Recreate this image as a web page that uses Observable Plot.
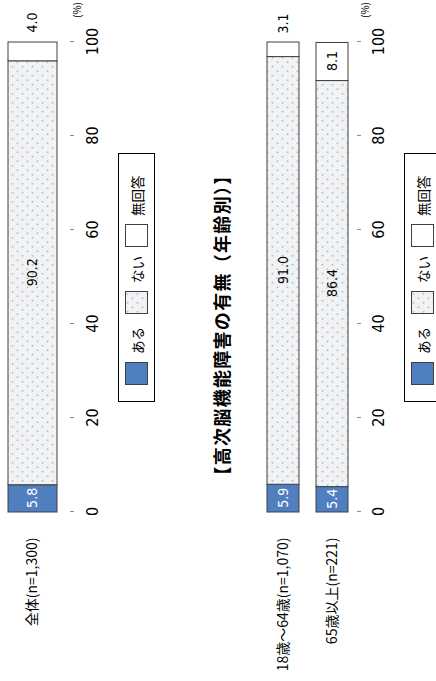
<!DOCTYPE html>
<html lang="ja">
<head>
<meta charset="utf-8">
<script src="https://cdn.jsdelivr.net/npm/d3@7"></script>
<script src="https://cdn.jsdelivr.net/npm/@observablehq/plot@0.6"></script>
<style>
html, body { margin: 0; padding: 0; background: #fff; width: 436px; height: 681px; overflow: hidden; }
#page { position: absolute; left: 0; top: 0; width: 681px; height: 436px; transform-origin: 0 0;
  transform: translate(0px, 681px) rotate(-90deg); overflow: hidden; background: #fff;
  font-family: "Noto Sans CJK JP", sans-serif; color: #000; }
#page .plot { position: absolute; left: 0; top: 0; }
.title { position: absolute; left: 156px; width: 400px; top: 209px; text-align: center; font-size: 18px;
  font-weight: 700; line-height: 24px; white-space: nowrap; letter-spacing: 1.3px; }
.unit { position: absolute; left: 663px; font-size: 10px; line-height: 12px; white-space: nowrap; }
.legend { position: absolute; left: 279px; width: 249px; height: 37px; box-sizing: border-box; border: 1px solid #000;
  display: flex; align-items: center; padding-left: 16px; background: #fff; }
.legend svg { display: block; flex: none; }
.legend span { font-size: 13.5px; line-height: 16px; white-space: nowrap; }
</style>
</head>
<body>
<svg width="0" height="0" style="position:absolute">
  <defs>
    <pattern id="dots" width="9" height="10" patternUnits="userSpaceOnUse">
      <rect width="9" height="10" fill="#F2F2F2"></rect>
      <circle cx="2.25" cy="2.5" r="0.9" fill="#9DC3E6"></circle>
      <circle cx="6.75" cy="7.5" r="0.9" fill="#9DC3E6"></circle>
    </pattern>
  </defs>
</svg>
<div id="page"></div>
<script>
// ---- data ----
const responses = ["ある", "ない", "無回答"];
const responseFills = ["#4F7FBF", "url(#dots)", "#FFFFFF"];

const totalCategories = ["全体(n=1,300)"];
const totalAru = [5.8];
const totalNai = [90.2];
const totalNoAnswer = [4.0];

const ageCategories = ["18歳～64歳(n=1,070)", "65歳以上(n=221)"];
const ageAru = [5.9, 5.4];
const ageNai = [91.0, 86.4];
const ageNoAnswer = [3.1, 8.1];

const axisTicks = [0, 20, 40, 60, 80, 100];
const chartTitle = "【高次脳機能障害の有無（年齢別）】";
const unitLabel = "(%)";

// ---- build ----
const NARROW = "'Liberation Sans Narrow', 'Arial Narrow', 'DejaVu Sans Condensed', 'Liberation Sans', sans-serif";
const CJK = "'Noto Sans CJK JP', sans-serif";

function rows(cats, a, n, m) {
  return cats.flatMap((c, i) => [
    {cat: c, resp: responses[0], value: a[i]},
    {cat: c, resp: responses[1], value: n[i]},
    {cat: c, resp: responses[2], value: m[i]}
  ]);
}
const fmt = v => v.toFixed(1);

function panel(cats, data, opts) {
  return Plot.plot({
    width: 681,
    height: opts.height,
    marginLeft: 169,
    marginRight: 42,
    marginTop: 0,
    marginBottom: opts.marginBottom,
    x: {domain: [0, 100], axis: null},
    y: {domain: cats, range: opts.yRange, paddingInner: opts.paddingInner, paddingOuter: 0, axis: null},
    color: {domain: responses, range: responseFills},
    style: {background: "transparent", overflow: "visible", fontFamily: CJK, fontSize: "13px", color: "#000"},
    marks: [
      Plot.barX(data, {x: "value", y: "cat", fill: "resp", stroke: "#404040", strokeWidth: 1}),
      Plot.text(data, Plot.stackX({x: "value", y: "cat", z: "resp",
        text: d => d.resp === responses[0] ? fmt(d.value) : "",
        fill: "white", fontSize: 14, fontFamily: NARROW})),
      Plot.text(data, Plot.stackX({x: "value", y: "cat", z: "resp",
        text: d => d.resp !== responses[0] && d.value >= 5 ? fmt(d.value) : "",
        fill: "black", fontSize: 14, fontFamily: NARROW})),
      Plot.text(data, Plot.stackX2({x: "value", y: "cat", z: "resp",
        text: d => d.resp === responses[2] && d.value < 5 ? fmt(d.value) : "",
        dx: opts.outsideDx, fill: "black", fontSize: 14, fontFamily: NARROW})),
      Plot.axisX(axisTicks, {tickSize: 4, tickPadding: opts.tickPadding, line: true, stroke: "#8c8c8c",
        fill: "#000", fontSize: 16, fontFamily: NARROW, label: null, tickFormat: d => String(d)}),
      Plot.axisY({tickSize: 0, tickPadding: 26, fontSize: 14, fontFamily: CJK, fill: "#000", label: null})
    ]
  });
}

const page = document.getElementById("page");

const p1 = panel(totalCategories, rows(totalCategories, totalAru, totalNai, totalNoAnswer),
  {height: 110, marginBottom: 40, yRange: [8, 57], paddingInner: 0, outsideDx: 19, tickPadding: 12});
p1.classList.add("plot");
page.appendChild(p1);

const p2 = panel(ageCategories, rows(ageCategories, ageAru, ageNai, ageNoAnswer),
  {height: 436, marginBottom: 79, yRange: [267, 348], paddingInner: 0.347, outsideDx: 18, tickPadding: 11});
p2.classList.add("plot");
page.appendChild(p2);

// title
const t = document.createElement("div");
t.className = "title";
t.textContent = chartTitle;
page.appendChild(t);

// units
[71, 359].forEach(top => {
  const u = document.createElement("div");
  u.className = "unit";
  u.style.top = top + "px";
  u.textContent = unitLabel;
  page.appendChild(u);
});

// legends
const gaps = [13, 9, 0];
[118, 404].forEach(top => {
  const lg = document.createElement("div");
  lg.className = "legend";
  lg.style.top = top + "px";
  responses.forEach((r, i) => {
    const sw = d3.create("svg").attr("width", 23).attr("height", 23).style("margin-right", "8px");
    sw.append("rect").attr("x", 0.5).attr("y", 0.5).attr("width", 22).attr("height", 22)
      .attr("fill", responseFills[i]).attr("stroke", "#404040");
    lg.appendChild(sw.node());
    const sp = document.createElement("span");
    sp.textContent = r;
    sp.style.marginRight = gaps[i] + "px";
    lg.appendChild(sp);
  });
  page.appendChild(lg);
});
</script>
</body>
</html>
